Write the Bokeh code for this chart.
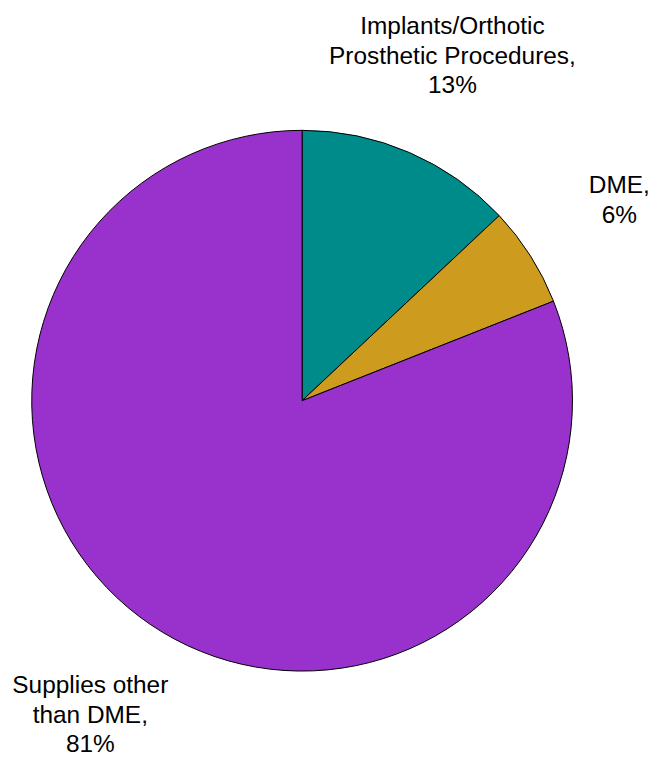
import math
from bokeh.plotting import figure
from bokeh.models import Range1d, ColumnDataSource
from bokeh.core.properties import value
from bokeh.embed import file_html
from bokeh.resources import INLINE

# ---- data ----
categories = ["Implants/Orthotic Prosthetic Procedures", "DME", "Supplies other than DME"]
shares = [13, 6, 81]
colors = ["#008B8B", "#CD9B1D", "#9932CC"]
label_lines = [
    ["Implants/Orthotic", "Prosthetic Procedures,", "13%"],
    ["DME,", "6%"],
    ["Supplies other", "than DME,", "81%"],
]

# ---- layout: data units = reference pixels, scaled uniformly to fit ----
W, H = 653, 758
REF_W, REF_H = 669, 774
scale = W / REF_W
units_h = H / scale

def sy(y):
    return REF_H - y

cx, cy, r = 309, 410, 277
label_anchor = [(463, 35), (634, 198), (92, 710)]
line_gap = 30
font_px = 25 * scale
text_shift = 9.0  # compensates renderer baseline offset

p = figure(width=W, height=H, output_backend="svg", toolbar_location=None,
           x_range=Range1d(0, REF_W), y_range=Range1d(REF_H - units_h, REF_H),
           min_border=0, outline_line_color=None)
p.axis.visible = False
p.grid.visible = False
p.background_fill_color = "white"
p.border_fill_color = "white"

total = sum(shares)
starts, ends = [], []
a = math.pi / 2
for s in shares:
    starts.append(a)
    a -= 2 * math.pi * s / total
    ends.append(a)

src = ColumnDataSource(dict(start=starts, end=ends, color=colors, cat=categories))
p.wedge(x=cx, y=sy(cy), radius=r, start_angle="start", end_angle="end",
        direction="clock", fill_color="color", line_color="black", line_width=1,
        source=src)

xs, ys, txt = [], [], []
for (ax, ay), lines in zip(label_anchor, label_lines):
    for i, t in enumerate(lines):
        xs.append(ax)
        ys.append(sy(ay + i * line_gap - text_shift))
        txt.append(t)
p.text(x=xs, y=ys, text=txt, text_align="center", text_baseline="alphabetic",
       text_font=value("Liberation Sans"), text_font_size=f"{font_px:.1f}px",
       text_color="black")

open("out.html", "w").write(file_html(p, INLINE))
